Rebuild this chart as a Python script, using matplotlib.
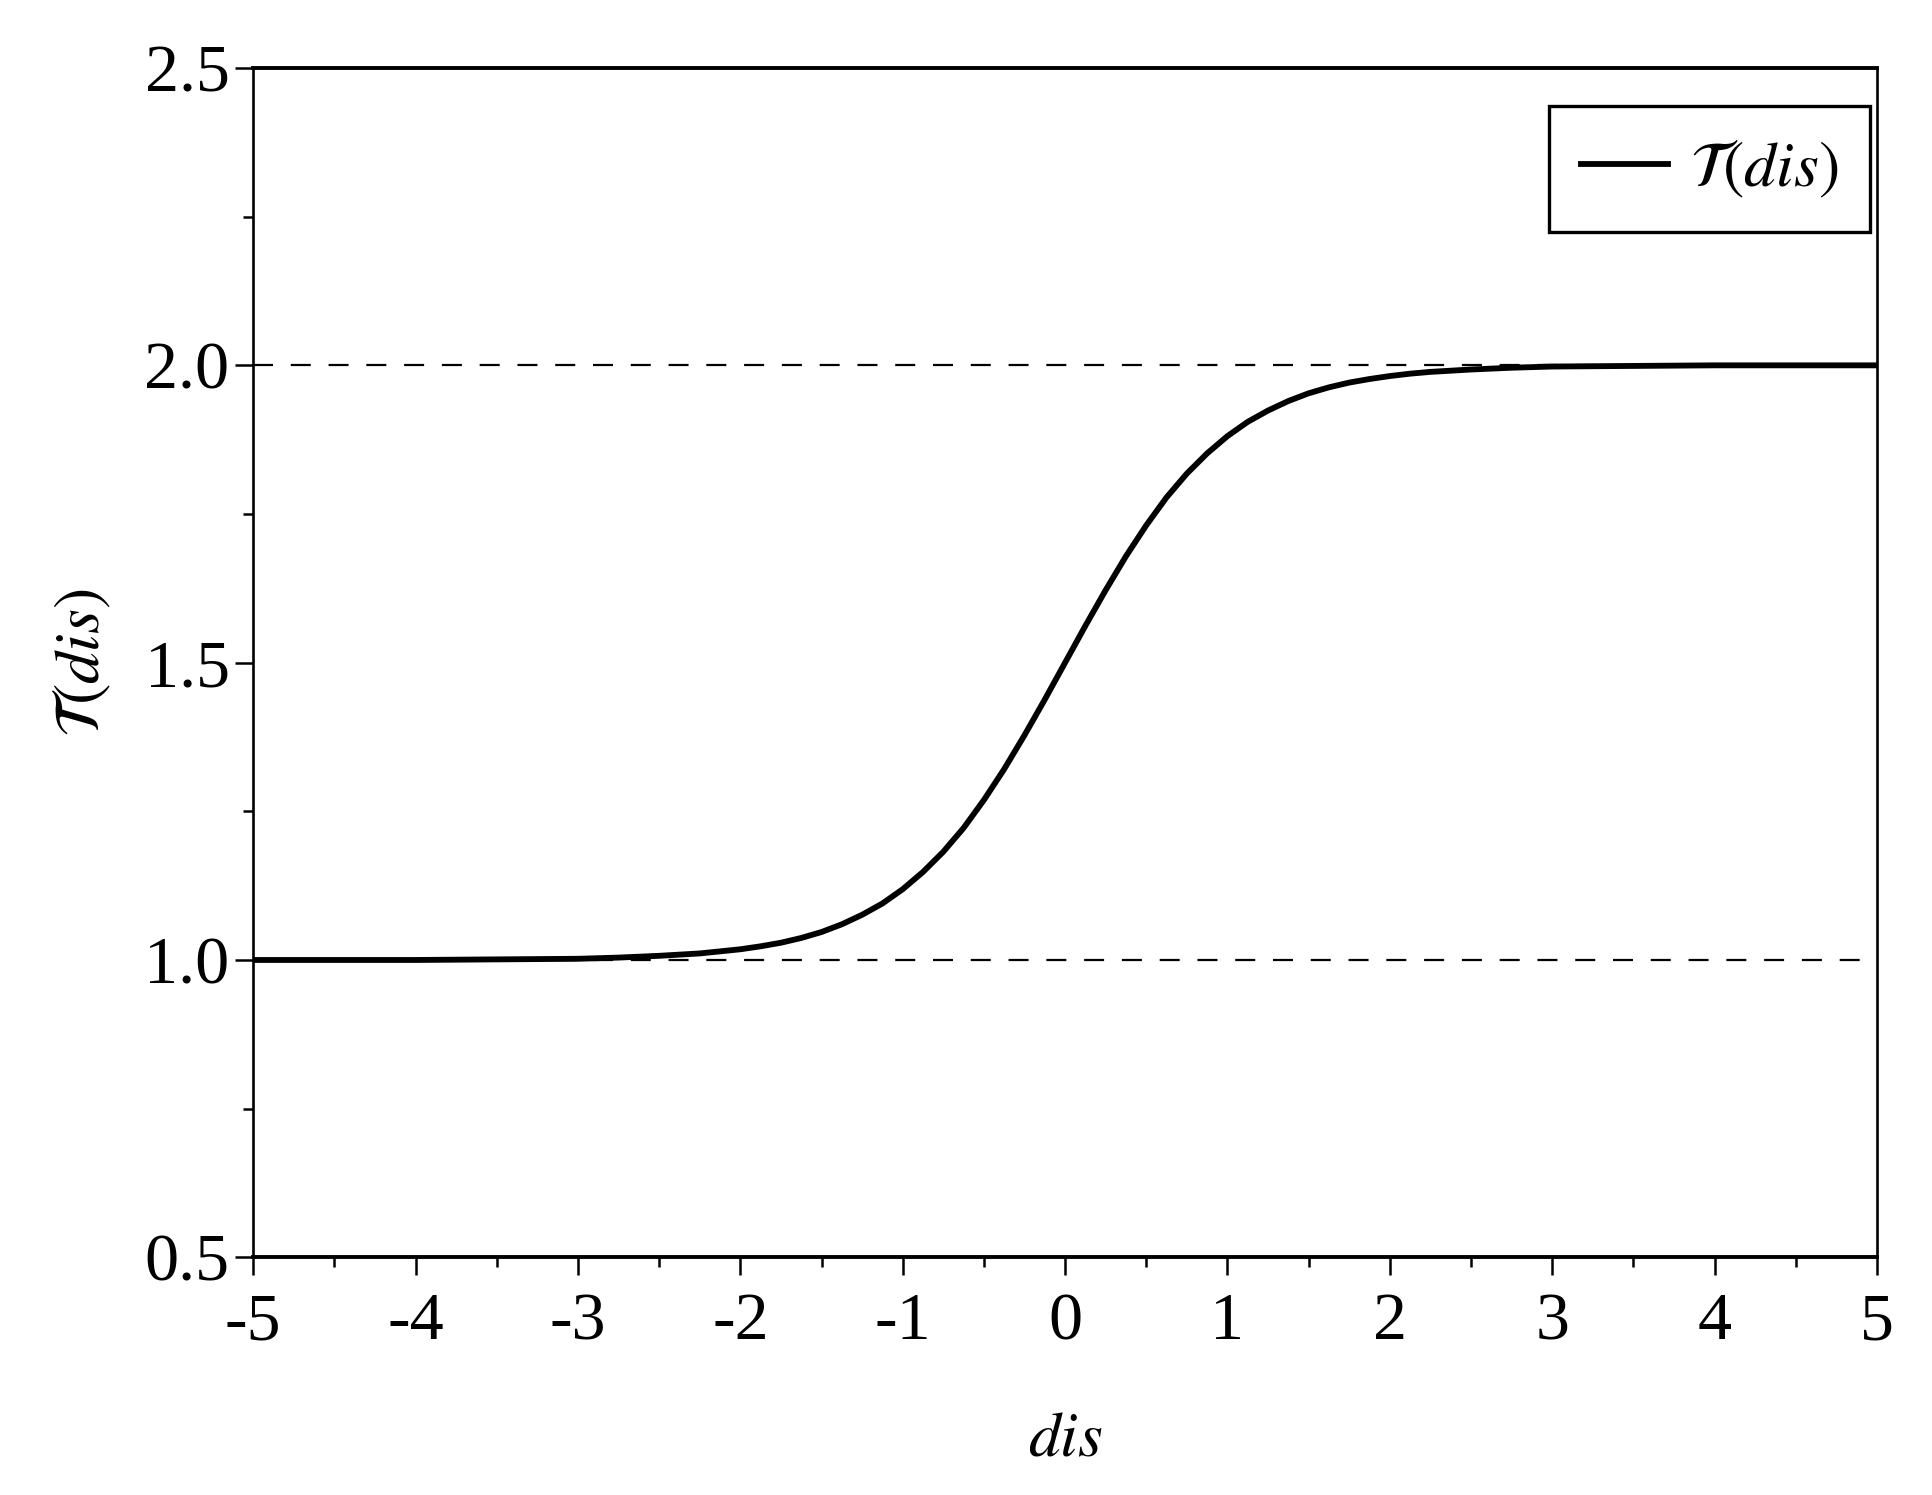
import numpy as np
import matplotlib
matplotlib.use("Agg")
import matplotlib.pyplot as plt
from matplotlib.ticker import MultipleLocator

# values
dis = [-5, -4, -3.5, -3, -2.75, -2.5, -2.25, -2, -1.875, -1.75, -1.625,
       -1.5, -1.375, -1.25, -1.125, -1, -0.875, -0.75, -0.625, -0.5,
       -0.375, -0.25, -0.125, 0, 0.125, 0.25, 0.375, 0.5, 0.625, 0.75,
       0.875, 1, 1.125, 1.25, 1.375, 1.5, 1.625, 1.75, 1.875, 2, 2.125,
       2.25, 2.5, 2.75, 3, 3.5, 4, 5]
t_dis = [1.0, 1.0, 1.001, 1.002, 1.004, 1.007, 1.011, 1.018, 1.023, 1.029,
         1.037, 1.047, 1.060, 1.076, 1.095, 1.119, 1.148, 1.182, 1.222,
         1.269, 1.321, 1.378, 1.438, 1.5, 1.562, 1.622, 1.679, 1.731,
         1.778, 1.818, 1.852, 1.881, 1.905, 1.924, 1.940, 1.953, 1.963,
         1.971, 1.977, 1.982, 1.986, 1.989, 1.993, 1.996, 1.998, 1.999,
         2.0, 2.0]
ref_levels = [1.0, 2.0]

plt.rcParams['font.family'] = ['Liberation Serif', 'DejaVu Serif']
plt.rcParams['mathtext.fontset'] = 'stix'
plt.rcParams['axes.unicode_minus'] = False

fig = plt.figure(figsize=(19.33, 14.95), dpi=100)
ax = fig.add_axes([0.131, 0.159, 0.84, 0.7955])

for lv in ref_levels:
    ax.axhline(lv, color='black', lw=1.6, ls=(0, (9, 8)), zorder=1)

ax.plot(dis, t_dis, color='black', lw=4.2, label=r'$\mathcal{T}(dis)$',
        zorder=3, solid_joinstyle='round')

ax.set_xlim(-5, 5)
ax.set_ylim(0.5, 2.5)
ax.xaxis.set_major_locator(MultipleLocator(1))
ax.xaxis.set_minor_locator(MultipleLocator(0.5))
ax.yaxis.set_minor_locator(MultipleLocator(0.25))
ax.set_yticks([0.5, 1.0, 1.5, 2.0, 2.5])
ax.set_yticklabels(['0.5', '1.0', '1.5', '2.0', '2.5'])

ax.tick_params(which='major', direction='out', length=13, width=1.8,
               labelsize=49)
ax.tick_params(which='minor', direction='out', length=7, width=1.8)
ax.tick_params(axis='x', pad=12)
ax.tick_params(axis='y', pad=4)

for side in ['left', 'right']:
    ax.spines[side].set_linewidth(1.9)
for side in ['top', 'bottom']:
    ax.spines[side].set_linewidth(2.8)

ax.set_xlabel(r'$dis$', fontsize=46, labelpad=42)
ax.set_ylabel(r'$\mathcal{T}(dis)$', fontsize=46, labelpad=22)

leg = ax.legend(loc='upper right', bbox_to_anchor=(0.996, 0.968),
                borderaxespad=0, fontsize=46, fancybox=False,
                handlelength=1.35, handletextpad=0.35, borderpad=0.5,
                framealpha=1)
leg.get_frame().set_edgecolor('black')
leg.get_frame().set_linewidth(2.4)

fig.savefig('out.png', dpi=100)
